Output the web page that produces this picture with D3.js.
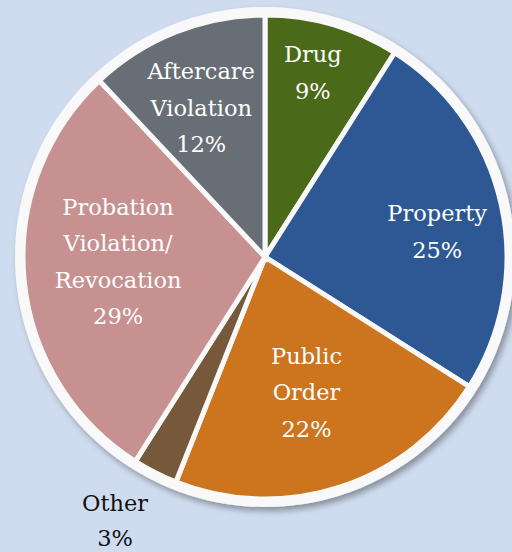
<!DOCTYPE html>
<html><head><meta charset="utf-8">
<script src="https://cdn.jsdelivr.net/npm/d3@7"></script>
<style>
html,body{margin:0;padding:0;background:#cfdcef;}
svg{display:block;}
</style></head>
<body>
<svg id="chart" width="512" height="552"></svg>
<script>
const categories = ["Drug", "Property", "Public Order", "Other", "Probation Violation/Revocation", "Aftercare Violation"];
const values = [9, 25, 22, 3, 29, 12];
const labelLines = [["Drug","9%"],["Property","25%"],["Public","Order","22%"],["Other","3%"],["Probation","Violation/","Revocation","29%"],["Aftercare","Violation","12%"]];
const colors = ["#4b6a19", "#2e5894", "#cc741e", "#76583a", "#c79191", "#686e75"];

const svg = d3.select("#chart");
const cx = 265, cy = 257, R = 242, ringR = 250;
// label placement (layout only): radius and angle tweak in degrees
const labelR = [190, 174, 142, 282, 147, 162];
const labelDA = [-1.6, 4.3, 1, 0, 3.4, -1.6];

const defs = svg.append("defs");
const f = defs.append("filter").attr("id","sh").attr("x","-10%").attr("y","-10%").attr("width","130%").attr("height","130%");
f.append("feDropShadow").attr("dx",3).attr("dy",4).attr("stdDeviation",3).attr("flood-color","#000").attr("flood-opacity",0.35);

const g = svg.append("g").attr("transform",`translate(${cx},${cy})`);
g.append("circle").attr("r", ringR).attr("fill","#f9f9f9").attr("filter","url(#sh)");

const pie = d3.pie().sort(null).value(d=>d)(values);
const arc = d3.arc().innerRadius(0).outerRadius(R);
g.selectAll("path.slice").data(pie).join("path")
  .attr("class","slice")
  .attr("d", arc)
  .attr("fill",(d,i)=>colors[i])
  .attr("stroke","#f9f9f9")
  .attr("stroke-width",5)
  .attr("stroke-linejoin","miter");

pie.forEach((d,i)=>{
  const a = (d.startAngle + d.endAngle)/2 + labelDA[i]*Math.PI/180;
  let x = Math.sin(a)*labelR[i], y = -Math.cos(a)*labelR[i];
  let lh = 36.5;
  if (i===3) { x = -150; y = 264; lh = 35; }
  const lines = labelLines[i];
  const t = g.append("text")
    .attr("text-anchor","middle")
    .attr("font-family","'DejaVu Serif', serif")
    .attr("font-size",22.5)
    .attr("fill", i===3 ? "#111" : "#ffffff");
  lines.forEach((s,k)=>{
    t.append("tspan").attr("x",x).attr("y", y + (k-(lines.length-1)/2)*lh + 7.5).text(s);
  });
});
</script>
</body></html>
